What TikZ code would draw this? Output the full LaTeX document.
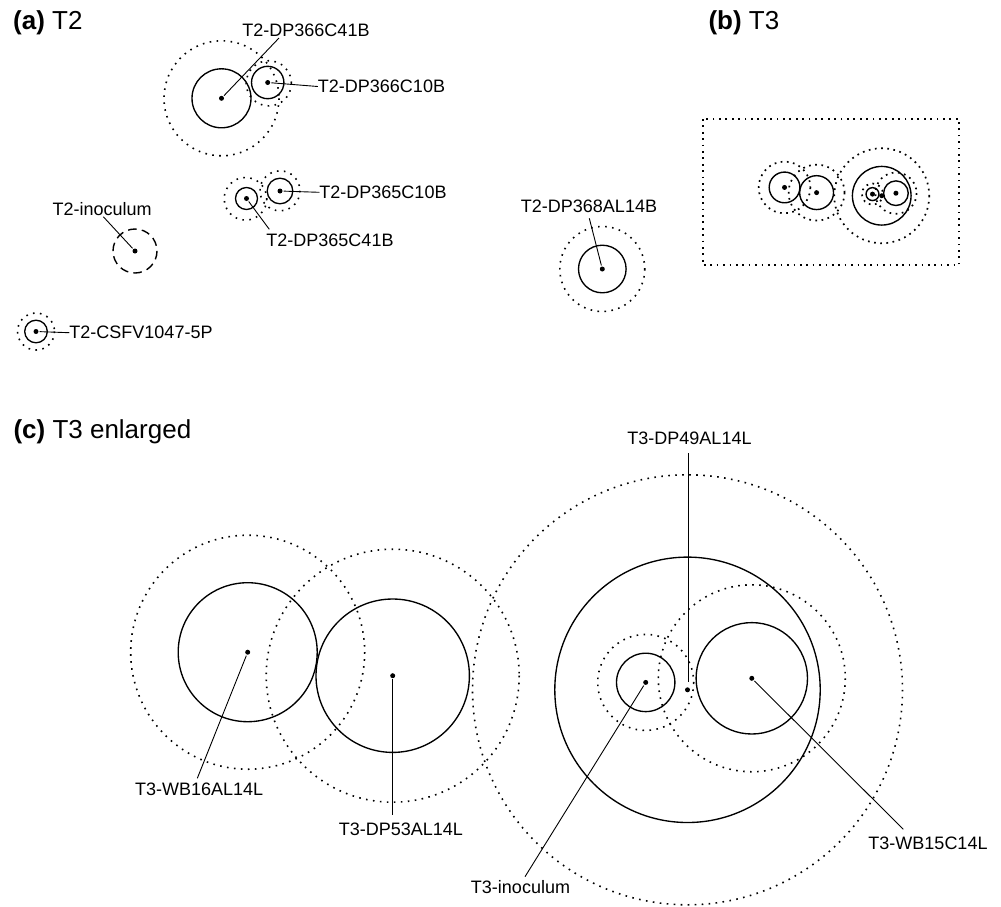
\documentclass[tikz,border=0pt]{standalone}
\usepackage{fontspec}
\setmainfont{Liberation Sans}
\tikzset{
  solidc/.style={line width=1.35pt},
  dotc/.style={line width=1.6pt, dash pattern=on 1.6pt off 5.4pt},
  dashc/.style={line width=1.4pt, dash pattern=on 8.5pt off 5.3pt},
  rectdot/.style={line width=1.7pt, dash pattern=on 1.7pt off 4.7pt},
  dot/.style={circle, fill=black, inner sep=0pt, minimum size=5pt},
  lbl/.style={font=\fontsize{18}{20}\selectfont, inner sep=0pt},
  leader/.style={line width=0.9pt, shorten <=1pt},
  ttl/.style={font=\fontsize{26}{30}\selectfont, inner sep=0pt, anchor=base west},
}
\newcommand\tthreecircles[1]{%
  \node[dot] (#1wb16) at (247.7,652.2) {};
  \node[dot] (#1dp53) at (392.7,675.7) {};
  \node[dot] (#1inoc) at (645.7,682.4) {};
  \node[dot] (#1dp49) at (687.5,689.8) {};
  \node[dot] (#1wb15) at (751.8,678.3) {};
  \draw[solidc] (#1wb16.center) circle[radius=69.5];
  \draw[dotc]   (#1wb16.center) circle[radius=117];
  \draw[solidc] (#1dp53.center) circle[radius=76.7];
  \draw[dotc]   (#1dp53.center) circle[radius=126.5];
  \draw[solidc] (#1inoc.center) circle[radius=29.2];
  \draw[dotc]   (#1inoc.center) circle[radius=48];
  \draw[solidc] (#1dp49.center) circle[radius=132.7];
  \draw[dotc]   (#1dp49.center) circle[radius=215];
  \draw[solidc] (#1wb15.center) circle[radius=55.7];
  \draw[dotc]   (#1wb15.center) circle[radius=93.5];
}
\begin{document}
\begin{tikzpicture}[x=1pt,y=-1pt]
\useasboundingbox (0,0) rectangle (1001,906);

% ---------- titles
\node[ttl] (ta) at (13,29.3) {\textbf{(a)} T2};
\node[ttl] (tb) at (708.3,29.3) {\textbf{(b)} T3};
\node[ttl] (tc) at (13.3,438.3) {\textbf{(c)} T3 enlarged};

% ---------- panel (a)
\node[dot] (a41) at (221.5,98.3) {};
\draw[solidc] (a41.center) circle[radius=29.5];
\draw[dotc] (a41.center) circle[radius=57.5];
\node[dot] (a10) at (267.7,82.5) {};
\draw[solidc] (a10.center) circle[radius=16.2];
\draw[dotc] (268.8,83.3) circle[radius=22.6];
\node[dot] (b41) at (246.5,198.5) {};
\draw[solidc] (b41.center) circle[radius=11];
\draw[dotc] (245.5,198.8) circle[radius=21.3];
\node[dot] (b10) at (280,191) {};
\draw[solidc] (b10.center) circle[radius=12.8];
\draw[dotc] (280,190.8) circle[radius=20];
\node[dot] (ainoc) at (135,251) {};
\draw[dashc] (ainoc.center) circle[radius=22];
\node[dot] (acsfv) at (36,331.5) {};
\draw[solidc] (acsfv.center) circle[radius=11.3];
\draw[dotc] (acsfv.center) circle[radius=18.5];
\node[dot] (a368) at (602.3,269) {};
\draw[solidc] (a368.center) circle[radius=23.8];
\draw[dotc] (a368.center) circle[radius=42.5];

\node[lbl] (l41) at (306,30.7) {T2-DP366C41B};
\coordinate (k41) at (279,38);
\draw[leader] (a41) -- (k41);
\node[lbl] (l10) at (381.5,86.5) {T2-DP366C10B};
\draw[leader] (a10) -- (l10.west);
\node[lbl] (m10) at (383,192.3) {T2-DP365C10B};
\draw[leader] (b10) -- (m10.west);
\node[lbl] (m41) at (330,240.7) {T2-DP365C41B};
\coordinate (km41) at (269.3,229.3);
\draw[leader] (b41) -- (km41);
\node[lbl] (linoc) at (102.2,209.3) {T2-inoculum};
\coordinate (kinoc) at (103.3,216.7);
\draw[leader] (ainoc) -- (kinoc);
\node[lbl] (lcsfv) at (141,332.7) {T2-CSFV1047-5P};
\draw[leader] (acsfv) -- (lcsfv.west);
\node[lbl] (l368) at (589,206) {T2-DP368AL14B};
\coordinate (k368) at (589.3,218.3);
\draw[leader] (a368) -- (k368);

% ---------- panel (b)
\draw[rectdot] (702.7,119) rectangle (959.3,265);
\begin{scope}[shift={(729.8,43.3)}, scale=0.221,
  solidc/.style={line width=1.4pt},
  dotc/.style={line width=1.7pt, dash pattern=on 1.7pt off 4.5pt}]
  \tthreecircles{m}
\end{scope}

% ---------- panel (c)
\tthreecircles{c}
\node[lbl] (lwb16) at (199.2,789.3) {T3-WB16AL14L};
\coordinate (kwb16) at (197.3,778.3);
\draw[leader] (cwb16) -- (kwb16);
\node[lbl] (ldp53) at (400.8,828.8) {T3-DP53AL14L};
\coordinate (kdp53) at (392.7,815);
\draw[leader] (cdp53) -- (kdp53);
\node[lbl] (ldp49) at (689.5,438.3) {T3-DP49AL14L};
\coordinate (kdp49t) at (688.2,452.3);
\coordinate (kdp49b) at (688.2,681.5);
\draw[leader, line width=1.2pt] (kdp49t) -- (kdp49b);
\node[lbl] (lwb15) at (928,843.3) {T3-WB15C14L};
\coordinate (kwb15) at (903.3,829.3);
\draw[leader] (cwb15) -- (kwb15);
\node[lbl] (linoc3) at (520.5,887.3) {T3-inoculum};
\coordinate (kinoc3) at (525,876.7);
\draw[leader] (cinoc) -- (kinoc3);
\end{tikzpicture}
\end{document}
